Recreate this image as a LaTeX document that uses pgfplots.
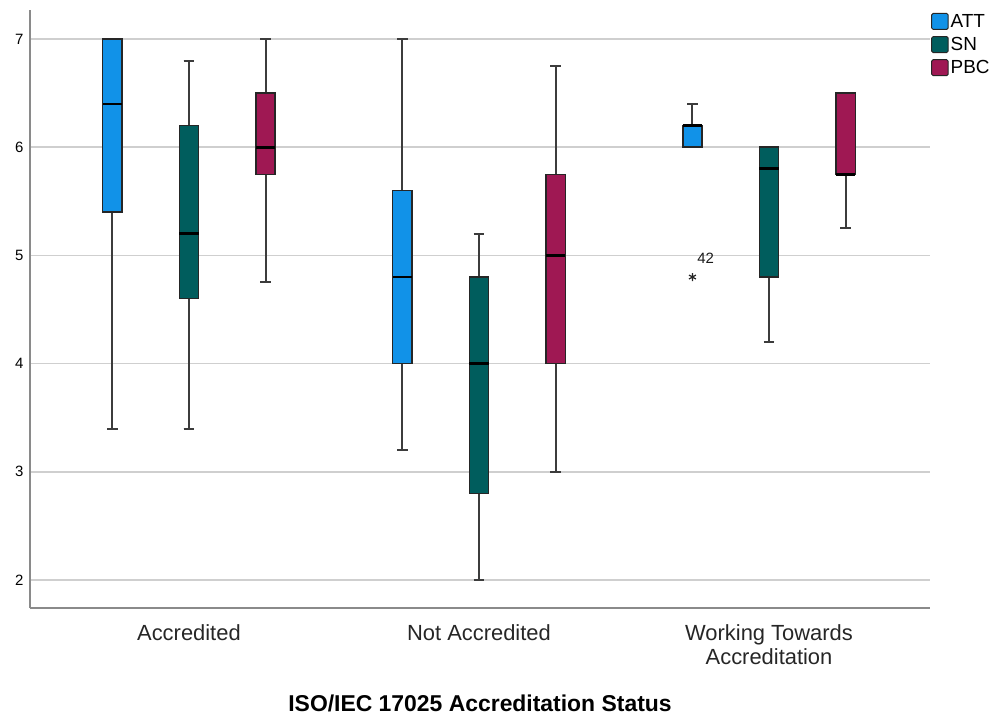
\documentclass[border=0pt]{standalone}
\usepackage{fontspec}
\setmainfont{Liberation Sans}
\usepackage{pgfplots}
\pgfplotsset{compat=1.18}
\usepgfplotslibrary{statistics}
\definecolor{attc}{HTML}{1192E8}
\definecolor{snc}{HTML}{005D5D}
\definecolor{pbcc}{HTML}{9F1853}
\definecolor{gridc}{HTML}{CFCFCF}
\definecolor{axc}{HTML}{8A8A8A}
\definecolor{whc}{HTML}{3C3C3C}
\pgfplotsset{
  boxplot/draw direction=y,
  boxplot/every box/.style={draw=black!85, line width=1.4bp},
  boxplot/every whisker/.style={draw=whc, line width=2bp},
  boxplot/every median/.style={draw=black, line width=2.8bp},
  boxplot/box extend=0.0666,
  boxplot/whisker extend=0.036,
}
\begin{document}
\begin{tikzpicture}
\begin{axis}[
  at={(0,0)}, anchor=south west,
  width=900bp, height=598bp, scale only axis,
  xmin=-0.548, xmax=2.555, ymin=1.741, ymax=7.268,
  axis x line*=bottom, axis y line*=left,
  axis line style={draw=axc, line width=1.3bp},
  ytick={2,3,4,5,6,7},
  ymajorgrids, major grid style={draw=gridc, line width=1.5bp},
  major tick length=0pt,
  xtick={0,1,2},
  xticklabels={Accredited, Not Accredited, {Working Towards\\Accreditation}},
  xticklabel style={font=\fontsize{22}{24}\selectfont, align=center, text=black!85, yshift=-13bp},
  yticklabel style={font=\fontsize{15}{16}\selectfont, text=black, xshift=-3bp},
  /pgf/number format/assume math mode=true,
  xlabel={ISO/IEC 17025 Accreditation Status},
  xlabel style={font=\bfseries\fontsize{23}{26}\selectfont, yshift=-24bp},
  legend style={at={(1,1)}, anchor=north west, xshift=1bp, yshift=-2bp, draw=none, fill=none,
    font=\fontsize{19}{22}\selectfont, row sep=4.5bp, inner sep=0bp,
    cells={anchor=west}},
  legend cell align=left,
]
% Accredited
\addplot[draw=black!70, fill=attc, mark=none, boxplot prepared={draw position=-0.264, lower whisker=3.4, lower quartile=5.4, median=6.4, upper quartile=7.0, upper whisker=7.0}] coordinates {};
\addplot[draw=black!70, fill=snc, mark=none, boxplot prepared={draw position=0, lower whisker=3.4, lower quartile=4.6, median=5.2, upper quartile=6.2, upper whisker=6.8}] coordinates {};
\addplot[draw=black!70, fill=pbcc, mark=none, boxplot prepared={draw position=0.264, lower whisker=4.75, lower quartile=5.75, median=6.0, upper quartile=6.5, upper whisker=7.0}] coordinates {};
% Not Accredited
\addplot[draw=black!70, fill=attc, mark=none, boxplot prepared={draw position=0.736, lower whisker=3.2, lower quartile=4.0, median=4.8, upper quartile=5.6, upper whisker=7.0}] coordinates {};
\addplot[draw=black!70, fill=snc, mark=none, boxplot prepared={draw position=1, lower whisker=2.0, lower quartile=2.8, median=4.0, upper quartile=4.8, upper whisker=5.2}] coordinates {};
\addplot[draw=black!70, fill=pbcc, mark=none, boxplot prepared={draw position=1.264, lower whisker=3.0, lower quartile=4.0, median=5.0, upper quartile=5.75, upper whisker=6.75}] coordinates {};
% Working Towards Accreditation
\addplot[draw=black!70, fill=attc, mark=asterisk, mark size=4bp, mark options={draw=black!85, line width=1.2bp, fill=none},
  boxplot prepared={draw position=1.736, lower whisker=6.0, lower quartile=6.0, median=6.2, upper quartile=6.2, upper whisker=6.4}] coordinates {(0,4.8)};
\addplot[draw=black!70, fill=snc, mark=none, boxplot prepared={draw position=2, lower whisker=4.2, lower quartile=4.8, median=5.8, upper quartile=6.0, upper whisker=6.0}] coordinates {};
\addplot[draw=black!70, fill=pbcc, mark=none, boxplot prepared={draw position=2.264, lower whisker=5.25, lower quartile=5.75, median=5.75, upper quartile=6.5, upper whisker=6.5}] coordinates {};
\node[anchor=west, font=\fontsize{15}{16}\selectfont, text=black!90, inner sep=0pt] at (axis cs:1.752,4.97) {42};
\addlegendimage{legend image code/.code={\filldraw[fill=attc, draw=black!85, line width=1bp, rounded corners=1.5bp] (0bp,-8bp) rectangle (16.5bp,8bp);}}
\addlegendimage{legend image code/.code={\filldraw[fill=snc, draw=black!85, line width=1bp, rounded corners=1.5bp] (0bp,-8bp) rectangle (16.5bp,8bp);}}
\addlegendimage{legend image code/.code={\filldraw[fill=pbcc, draw=black!85, line width=1bp, rounded corners=1.5bp] (0bp,-8bp) rectangle (16.5bp,8bp);}}
\legend{,,,,,,,,,ATT,SN,PBC}
\end{axis}
\pgfresetboundingbox
\path[use as bounding box] (-30bp,-109bp) rectangle (965bp,608bp);
\end{tikzpicture}
\end{document}
